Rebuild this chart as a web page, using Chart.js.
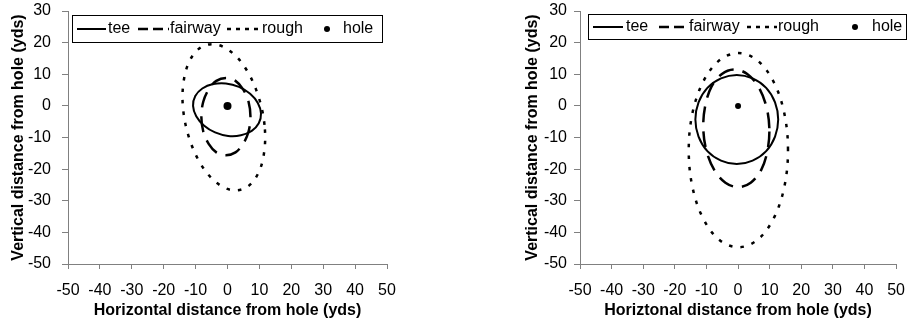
<!DOCTYPE html>
<html>
<head>
<meta charset="utf-8">
<script src="https://cdn.jsdelivr.net/npm/chart.js@4.4.1/dist/chart.umd.min.js"></script>
<style>
  html, body { margin: 0; padding: 0; background: #fff; }
  .wrap { position: absolute; top: 0; height: 324px; }
  #leftWrap { left: 0; width: 458px; }
  #rightWrap { left: 458px; width: 459px; }
</style>
</head>
<body>
<div class="wrap" id="leftWrap"><canvas id="leftChart"></canvas></div>
<div class="wrap" id="rightWrap"><canvas id="rightChart"></canvas></div>
<script>
// --- data (yds) ---
const seriesNames = ['tee', 'fairway', 'rough', 'hole'];
const holeX = [0];
const holeY = [0];

// left chart
const teeLeftX = [10.5, 9.5, 7.1, 3.6, -0.5, -4.5, -7.9, -10.1, -10.8, -9.8, -7.4, -3.9, 0.2, 4.2, 7.6, 9.8];
const teeLeftY = [-2.4, 0.9, 3.8, 6.0, 7.1, 6.9, 5.5, 3.1, 0.0, -3.3, -6.2, -8.4, -9.5, -9.3, -7.9, -5.5];
const fairwayLeftX = [7.2, 6.6, 4.9, 2.5, -0.5, -3.5, -5.9, -7.6, -8.2, -7.6, -5.9, -3.5, -0.5, 2.5, 4.9, 6.6];
const fairwayLeftY = [-3.4, 1.3, 5.2, 7.9, 8.8, 7.9, 5.2, 1.3, -3.4, -8.1, -12.0, -14.7, -15.6, -14.7, -12.0, -8.1];
const roughLeftX = [11.6, 9.7, 6.2, 1.6, -3.5, -8.2, -11.8, -13.8, -13.9, -12.0, -8.5, -3.9, 1.2, 5.9, 9.5, 11.5];
const roughLeftY = [-6.0, 3.0, 11.0, 16.7, 19.4, 18.6, 14.4, 7.4, -1.2, -10.2, -18.2, -23.9, -26.6, -25.8, -21.6, -14.6];

// right chart
const teeRightX = [12.7, 11.7, 8.9, 4.6, -0.4, -5.4, -9.7, -12.5, -13.5, -12.5, -9.7, -5.4, -0.4, 4.6, 8.9, 11.7];
const teeRightY = [-4.3, 1.1, 5.7, 8.7, 9.8, 8.7, 5.7, 1.1, -4.3, -9.7, -14.3, -17.3, -18.4, -17.3, -14.3, -9.7];
const fairwayRightX = [9.9, 8.9, 6.4, 2.9, -1.2, -5.1, -8.4, -10.4, -11.0, -10.0, -7.5, -4.0, 0.1, 4.0, 7.3, 9.3];
const fairwayRightY = [-7.1, 0.0, 6.1, 10.1, 11.5, 10.1, 6.1, 0.0, -7.1, -14.2, -20.3, -24.3, -25.7, -24.3, -20.3, -14.2];
const roughRightX = [15.8, 14.6, 11.2, 6.1, 0.1, -5.9, -11.0, -14.4, -15.6, -14.4, -11.0, -5.9, 0.1, 6.1, 11.2, 14.6];
const roughRightY = [-14.0, -2.2, 7.7, 14.4, 16.7, 14.4, 7.7, -2.2, -14.0, -25.8, -35.7, -42.4, -44.7, -42.4, -35.7, -25.8];

const axisMin = { x: -50, y: -50 };
const axisMax = { x: 50, y: 30 };
const tickStep = 10;

// --- helpers ---
const FONT = "'Liberation Sans', Arial, sans-serif";
const zip = (xs, ys) => xs.map((x, i) => ({ x: x, y: ys[i] }));

function ellipseSet(label, xs, ys, width, dash, legendDash) {
  return {
    label: label,
    data: zip(xs, ys),
    closed: true,
    borderColor: '#000',
    borderWidth: width,
    borderDash: dash,
    legendDash: legendDash,
    tension: 0.35,
    pointRadius: 0,
    fill: false
  };
}

function holeSet(r) {
  return {
    label: seriesNames[3],
    data: zip(holeX, holeY),
    showLine: false,
    pointRadius: r,
    pointBackgroundColor: '#000',
    pointBorderWidth: 0,
    borderColor: '#000'
  };
}

// turn the ellipse lines into closed smooth loops
const closeLoops = {
  id: 'closeLoops',
  afterDatasetUpdate(chart, args) {
    const ds = chart.data.datasets[args.index];
    const line = args.meta.dataset;
    if (ds.closed && line) {
      line._loop = true;
      line._fullLoop = true;
      delete line._segments;
      line._path = undefined;
    }
  }
};

// legend in a bordered box inside the plot, like the original
const boxLegend = {
  id: 'boxLegend',
  afterDatasetsDraw(chart, args, opts) {
    const ctx = chart.ctx;
    const b = opts.box;
    ctx.save();
    ctx.fillStyle = '#fff';
    ctx.fillRect(b[0], b[1], b[2], b[3]);
    ctx.strokeStyle = '#000';
    ctx.lineWidth = 1;
    ctx.strokeRect(b[0] + 0.5, b[1] + 0.5, b[2], b[3]);
    const cy = b[1] + b[3] / 2 + 0.5;
    ctx.font = '16px ' + FONT;
    ctx.textBaseline = 'middle';
    ctx.textAlign = 'left';
    chart.data.datasets.forEach((ds, i) => {
      const it = opts.items[i];
      ctx.fillStyle = '#000';
      ctx.strokeStyle = '#000';
      if (ds.showLine === false) {
        ctx.beginPath();
        ctx.arc(it.x0, cy, 3, 0, Math.PI * 2);
        ctx.fill();
      } else {
        ctx.lineWidth = ds.borderWidth;
        ctx.setLineDash(ds.legendDash || []);
        ctx.beginPath();
        ctx.moveTo(it.x0, cy);
        ctx.lineTo(it.x1, cy);
        ctx.stroke();
        ctx.setLineDash([]);
      }
      ctx.fillText(ds.label, it.tx, cy);
    });
    ctx.restore();
  }
};

function buildChart(canvasId, sets, look) {
  const grid = (len) => ({
    drawOnChartArea: false, drawTicks: true, tickLength: len,
    color: '#808080', tickColor: '#808080', lineWidth: 1
  });
  return new Chart(document.getElementById(canvasId), {
    type: 'line',
    data: { datasets: sets },
    options: {
      responsive: true,
      maintainAspectRatio: false,
      animation: false,
      events: [],
      layout: { padding: { left: look.padLeft, top: 11, right: look.padRight, bottom: 0 } },
      plugins: {
        legend: { display: false },
        tooltip: { enabled: false },
        boxLegend: look.legend
      },
      scales: {
        x: {
          type: 'linear',
          min: axisMin.x, max: axisMax.x,
          ticks: { stepSize: tickStep, autoSkip: false, maxRotation: 0, color: '#000', font: { family: FONT, size: 16 }, padding: 12 },
          grid: grid(5),
          border: { color: '#808080', width: 1 },
          title: { display: true, text: look.xTitle, color: '#000', font: { family: FONT, size: 16, weight: 'bold' }, padding: { top: 0, bottom: 4 } },
          afterFit: (s) => { s.height = 60; }
        },
        y: {
          type: 'linear',
          min: axisMin.y, max: axisMax.y,
          ticks: { stepSize: tickStep, autoSkip: false, color: '#000', font: { family: FONT, size: 16 }, padding: look.yPad },
          grid: grid(6),
          border: { color: '#808080', width: 1 },
          title: { display: true, text: 'Vertical distance from hole (yds)', color: '#000', font: { family: FONT, size: 16, weight: 'bold' }, padding: { top: 9, bottom: 0 } },
          afterFit: (s) => { s.width = look.yWidth; s.paddingTop = 0; s.paddingBottom = 0; }
        }
      }
    },
    plugins: [closeLoops, boxLegend]
  });
}

const DASH_FAIRWAY = [16, 9];
const DASH_ROUGH = [3.5, 8];

buildChart('leftChart', [
  ellipseSet(seriesNames[0], teeLeftX, teeLeftY, 2, [], []),
  ellipseSet(seriesNames[1], fairwayLeftX, fairwayLeftY, 2.5, DASH_FAIRWAY, [10, 5]),
  ellipseSet(seriesNames[2], roughLeftX, roughLeftY, 2.5, DASH_ROUGH, [4, 5]),
  holeSet(4)
], {
  padLeft: 0, padRight: 71, yWidth: 68, yPad: 11,
  xTitle: 'Horizontal distance from hole (yds)',
  legend: {
    box: [72, 15, 310, 27],
    items: [
      { x0: 77, x1: 106, tx: 108 },
      { x0: 138, x1: 169, tx: 170 },
      { x0: 227, x1: 260, tx: 262 },
      { x0: 327, tx: 343 }
    ]
  }
});

buildChart('rightChart', [
  ellipseSet(seriesNames[0], teeRightX, teeRightY, 2, [], []),
  ellipseSet(seriesNames[1], fairwayRightX, fairwayRightY, 2.5, DASH_FAIRWAY, [10, 5]),
  ellipseSet(seriesNames[2], roughRightX, roughRightY, 2.5, DASH_ROUGH, [4, 5]),
  holeSet(3)
], {
  padLeft: 56, padRight: 13, yWidth: 66, yPad: 7,
  xTitle: 'Horiztonal distance from hole (yds)',
  legend: {
    box: [130, 14, 318, 25],
    items: [
      { x0: 135, x1: 165, tx: 168 },
      { x0: 201, x1: 230, tx: 231 },
      { x0: 289, x1: 319, tx: 320 },
      { x0: 397, tx: 414 }
    ]
  }
});
</script>
</body>
</html>
